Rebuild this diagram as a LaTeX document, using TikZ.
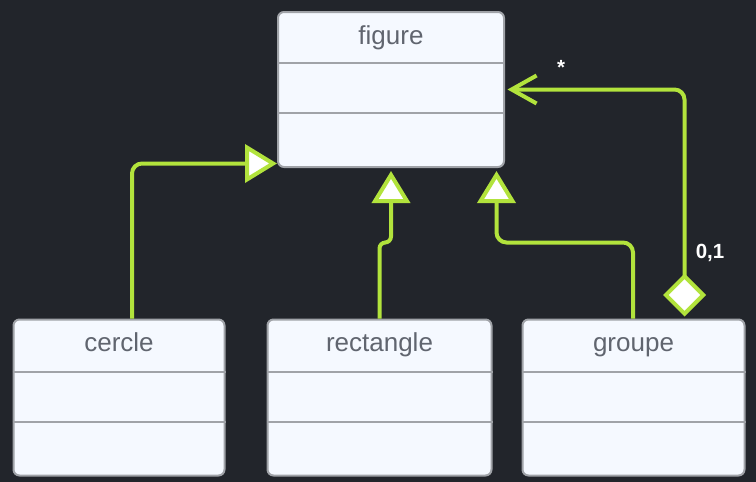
\documentclass[tikz,border=0pt]{standalone}
\usepackage{fontspec}
\setmainfont{Liberation Sans}
\usetikzlibrary{arrows.meta,calc}
\definecolor{bgc}{HTML}{22252B}
\definecolor{boxfill}{HTML}{F5F9FF}
\definecolor{boxline}{HTML}{A0A3A8}
\definecolor{txtc}{HTML}{60656F}
\definecolor{lime}{HTML}{B2E33C}
\tikzset{
  cls/.style={draw=boxline, line width=2pt, fill=boxfill, rounded corners=6pt, inner sep=0pt},
  clstitle/.style={anchor=base, text=txtc, font=\fontsize{26}{30}\selectfont, inner sep=0pt},
  sep/.style={draw=boxline, line width=2pt},
  conn/.style={draw=lime, line width=4pt},
  gen/.style={conn, -{Triangle[fill=white, length=32pt, width=38pt]}},
  assoc/.style={conn, {Diamond[fill=white, length=43pt, width=43pt]}-{Straight Barb[length=25pt, width=28pt]}},
  mult/.style={text=white, font=\bfseries\fontsize{20.5}{24}\selectfont, inner sep=0pt}
}
\begin{document}
\begin{tikzpicture}[x=1pt,y=-1pt]
\fill[bgc] (0,0) rectangle (756,482);
\useasboundingbox (0,0) rectangle (756,482);

% classes
\node[cls, minimum width=226pt, minimum height=155pt] (fig) at (391,89.5) {};
\node[cls, minimum width=211pt, minimum height=156pt] (cer) at (119,397.5) {};
\node[cls, minimum width=224pt, minimum height=156pt] (rec) at (379.5,397.5) {};
\node[cls, minimum width=222pt, minimum height=156pt] (grp) at (633.5,397.5) {};

\node[clstitle] (figT) at ($(fig.north)+(0,33)$) {figure};
\node[clstitle] (cerT) at ($(cer.north)+(0,33)$) {cercle};
\node[clstitle] (recT) at ($(rec.north)+(0,33)$) {rectangle};
\node[clstitle] (grpT) at ($(grp.north)+(0,33)$) {groupe};

\foreach \n/\a/\b in {fig/52/102, cer/53/103, rec/53/103, grp/53/103}{
  \draw[sep] ($(\n.north west)+(0,\a)$) -- ($(\n.north east)+(0,\a)$);
  \draw[sep] ($(\n.north west)+(0,\b)$) -- ($(\n.north east)+(0,\b)$);
}

% generalizations
\draw[gen, rounded corners=10pt] ($(cer.north)+(13,0)$) |- ($(fig.south west)+(0,-4.5)$);
\draw[gen, rounded corners=6pt, shorten >=3pt] (rec.north) -- ++(0,-76) -| (fig.south);
\draw[gen, rounded corners=10pt, shorten >=3pt] ($(grp.north)+(-0.5,0)$) -- ++(0,-76) -| ($(fig.south east)+(-8.5,0)$);

% aggregation
\coordinate (dg) at ($(grp.north east)+(-61,-2)$);
\draw[assoc, rounded corners=10pt, shorten >=2.5pt] (dg) |- (fig.east);

\node[mult] (m1) at (561,67) {*};
\node[mult] (m2) at (710,253) {0,1};
\end{tikzpicture}
\end{document}
